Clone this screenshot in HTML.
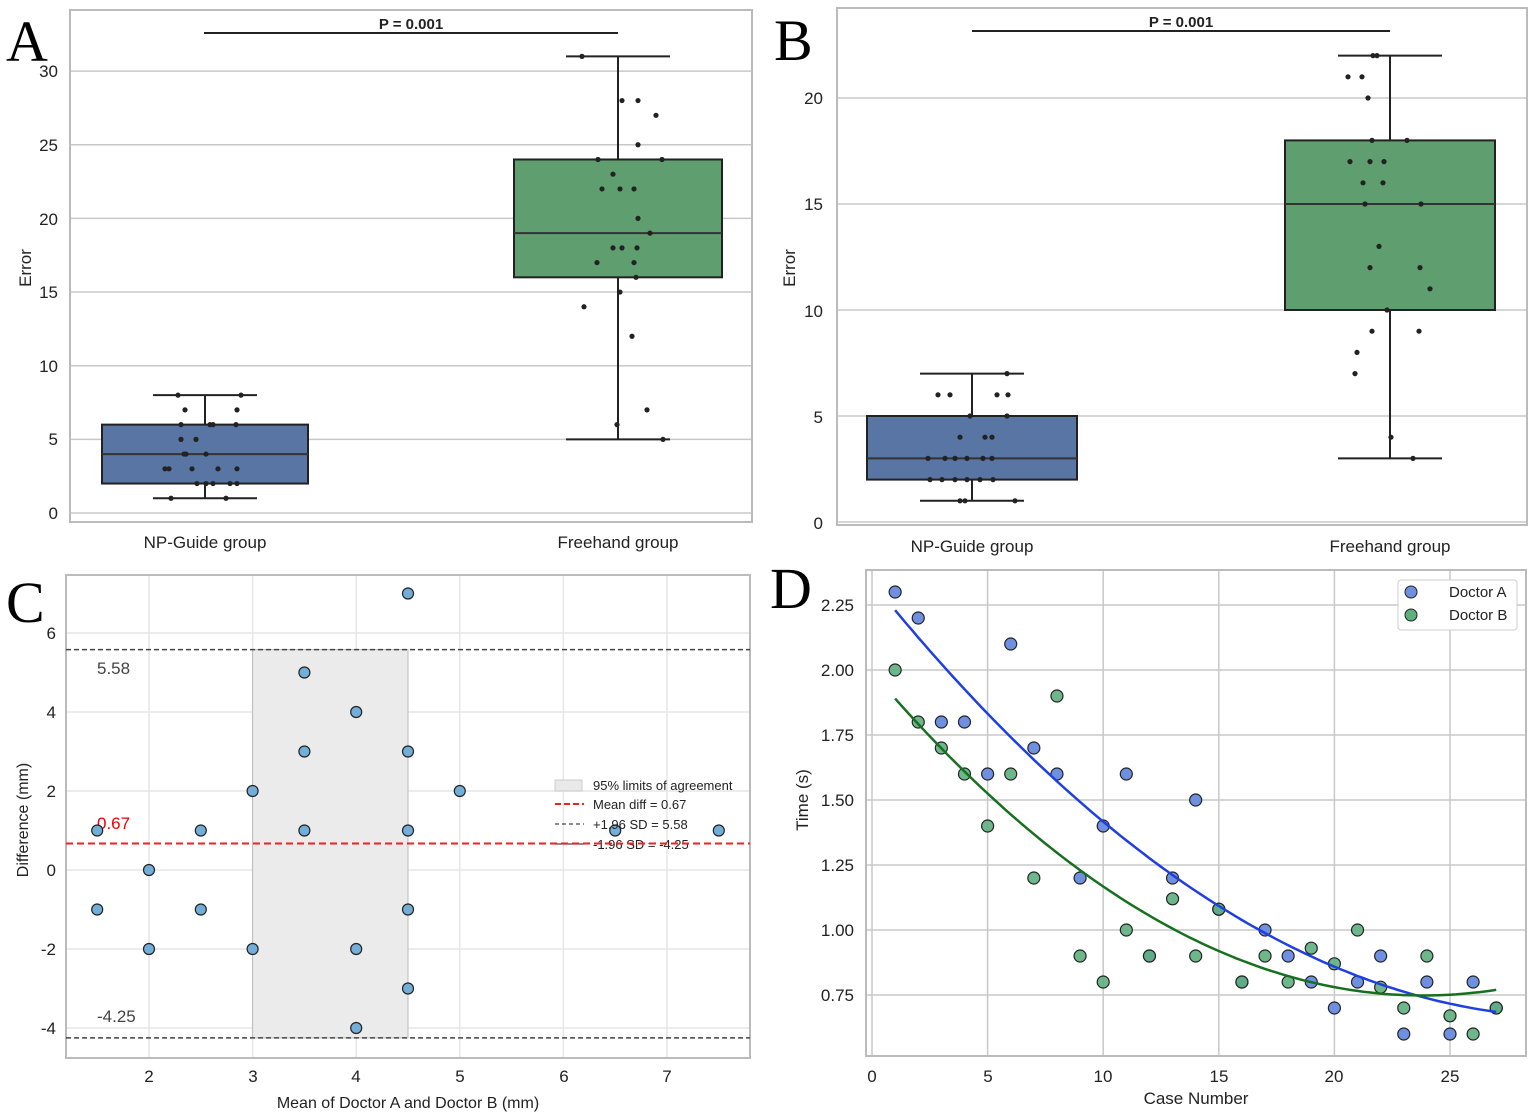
<!DOCTYPE html>
<html><head><meta charset="utf-8"><style>
html,body{margin:0;padding:0;background:#fff;}
svg{display:block;font-family:"Liberation Sans",sans-serif;}
.t{font-size:17px;fill:#222;}
.big{font-family:"Liberation Serif",serif;font-size:58px;fill:#000;}
</style></head><body>
<svg id="s" width="1535" height="1118" viewBox="0 0 1535 1118" xmlns="http://www.w3.org/2000/svg">
<g id="grid"></g>
<!-- Panel A -->
<rect x="70" y="10" width="682" height="512" fill="none" stroke="#bbb" stroke-width="2"/>
<g class="t" text-anchor="end">
<text x="58" y="519">0</text><text x="58" y="445">5</text><text x="58" y="372">10</text><text x="58" y="298">15</text><text x="58" y="225">20</text><text x="58" y="151">25</text><text x="58" y="77">30</text>
</g>
<text class="t" transform="translate(31,268) rotate(-90)" text-anchor="middle">Error</text>
<text class="t" x="205" y="548" text-anchor="middle">NP-Guide group</text>
<text class="t" x="618" y="548" text-anchor="middle">Freehand group</text>
<line x1="204" y1="33" x2="618" y2="33" stroke="#222" stroke-width="2"/>
<text x="411" y="29" text-anchor="middle" style="font-size:15px;font-weight:bold;fill:#222">P = 0.001</text>
<text class="big" x="6" y="61">A</text>
<!-- Panel B -->
<rect x="837" y="8" width="690" height="517" fill="none" stroke="#bbb" stroke-width="2"/>
<g class="t" text-anchor="end">
<text x="823" y="529">0</text><text x="823" y="423">5</text><text x="823" y="317">10</text><text x="823" y="210">15</text><text x="823" y="104">20</text>
</g>
<text class="t" transform="translate(795,268) rotate(-90)" text-anchor="middle">Error</text>
<text class="t" x="972" y="552" text-anchor="middle">NP-Guide group</text>
<text class="t" x="1390" y="552" text-anchor="middle">Freehand group</text>
<line x1="972" y1="31" x2="1390" y2="31" stroke="#222" stroke-width="2"/>
<text x="1181" y="27" text-anchor="middle" style="font-size:15px;font-weight:bold;fill:#222">P = 0.001</text>
<text class="big" x="774" y="60">B</text>
<!-- Panel C -->
<rect x="66" y="575" width="684" height="483" fill="none" stroke="#bbb" stroke-width="2"/>
<g class="t" text-anchor="end">
<text x="56" y="639">6</text><text x="56" y="718">4</text><text x="56" y="797">2</text><text x="56" y="876">0</text><text x="56" y="955">-2</text><text x="56" y="1034">-4</text>
</g>
<g class="t" text-anchor="middle">
<text x="149" y="1082">2</text><text x="253" y="1082">3</text><text x="356" y="1082">4</text><text x="460" y="1082">5</text><text x="564" y="1082">6</text><text x="667" y="1082">7</text>
</g>
<text class="t" x="408" y="1108" text-anchor="middle" style="font-size:16px">Mean of Doctor A and Doctor B (mm)</text>
<text class="t" transform="translate(28,820) rotate(-90)" text-anchor="middle" style="font-size:16px">Difference (mm)</text>
<text x="97" y="674" style="font-size:17px;fill:#444">5.58</text>
<text x="97" y="829" style="font-size:17px;fill:#e00">0.67</text>
<text x="97" y="1022" style="font-size:17px;fill:#444">-4.25</text>
<text class="big" x="6" y="622">C</text>
<!-- Panel D -->
<rect x="866" y="570" width="660" height="486" fill="none" stroke="#bbb" stroke-width="2"/>
<g class="t" text-anchor="end">
<text x="854" y="611">2.25</text><text x="854" y="676">2.00</text><text x="854" y="741">1.75</text><text x="854" y="806">1.50</text><text x="854" y="871">1.25</text><text x="854" y="936">1.00</text><text x="854" y="1001">0.75</text>
</g>
<g class="t" text-anchor="middle">
<text x="872" y="1082">0</text><text x="988" y="1082">5</text><text x="1103" y="1082">10</text><text x="1219" y="1082">15</text><text x="1334" y="1082">20</text><text x="1450" y="1082">25</text>
</g>
<text x="1196" y="1104" text-anchor="middle" style="font-size:17px;fill:#222">Case Number</text>
<text class="t" transform="translate(808,800) rotate(-90)" text-anchor="middle">Time (s)</text>
<text class="big" x="770" y="608">D</text>
<g id="fg"></g>
<!-- legend C -->
<g style="font-size:13px;fill:#222">
<rect x="555" y="780" width="27" height="11" fill="#e9e9e9" stroke="#ccc"/>
<text x="593" y="790">95% limits of agreement</text>
<line x1="555" y1="804" x2="584" y2="804" stroke="#e22" stroke-width="2" stroke-dasharray="6,3"/>
<text x="593" y="809">Mean diff = 0.67</text>
<line x1="555" y1="824" x2="584" y2="824" stroke="#444" stroke-width="1.3" stroke-dasharray="4,3"/>
<text x="593" y="829">+1.96 SD = 5.58</text>
<line x1="555" y1="844" x2="584" y2="844" stroke="#444" stroke-width="1.3"/>
<text x="593" y="849">-1.96 SD = -4.25</text>
</g>
<line x1="66" y1="843.5" x2="750" y2="843.5" stroke="#e22" stroke-width="2" stroke-dasharray="7,4"/>
<!-- legend D -->
<rect x="1398" y="580" width="119" height="50" fill="#fff" stroke="#ccc" rx="3"/>
<circle cx="1411" cy="592" r="6" fill="#6f8fe0" stroke="#222"/>
<circle cx="1411" cy="615" r="6" fill="#5daf7e" stroke="#222"/>
<text x="1449" y="597" style="font-size:15px;fill:#222">Doctor A</text>
<text x="1449" y="620" style="font-size:15px;fill:#222">Doctor B</text>
</svg>
<script>
var NS="http://www.w3.org/2000/svg",g=document.getElementById('grid'),f=document.getElementById('fg');
function el(p,n,a){var e=document.createElementNS(NS,n);for(var k in a)e.setAttribute(k,a[k]);p.appendChild(e);return e;}
function L(p,x1,y1,x2,y2,c,w,d){var a={x1:x1,y1:y1,x2:x2,y2:y2,stroke:c,'stroke-width':w||1};if(d)a['stroke-dasharray']=d;return el(p,'line',a);}
// A
var yA=function(v){return 513-14.73*v};
for(var v=0;v<=30;v+=5)L(g,71,yA(v),751,yA(v),'#c8c8c8',1.5);
function box(p,cx,hw,cw,lo,q1,med,q3,hi,fy,col){
 L(p,cx,fy(hi),cx,fy(q3),'#222',2);L(p,cx,fy(q1),cx,fy(lo),'#222',2);
 L(p,cx-cw,fy(hi),cx+cw,fy(hi),'#222',2);L(p,cx-cw,fy(lo),cx+cw,fy(lo),'#222',2);
 el(p,'rect',{x:cx-hw,y:fy(q3),width:2*hw,height:fy(q1)-fy(q3),fill:col,stroke:'#222','stroke-width':2});
 L(p,cx-hw,fy(med),cx+hw,fy(med),'#333',2);}
box(f,205,103,52,1,2,4,6,8,yA,'#5875a4');box(f,618,104,52,5,16,19,24,31,yA,'#5f9e6e');
var pa=[[8,178],[8,241],[7,185],[7,237],[6,181],[6,210],[6,213],[6,236],[5,181],[5,196],[4,184],[4,186],[4,206],[3,165],[3,169],[3,192],[3,218],[3,237],[2,197],[2,206],[2,213],[2,230],[2,237],[1,171],[1,226],
[31,582],[28,622],[28,638],[27,656],[25,638],[24,598],[24,662],[23,613],[22,602],[22,620],[22,634],[20,638],[19,650],[18,613],[18,622],[18,637],[17,597],[17,634],[16,636],[15,620],[14,584],[12,632],[7,647],[6,617],[5,663]];
pa.forEach(function(p){el(f,'circle',{cx:p[1],cy:yA(p[0]),r:2.6,fill:'#222'})});
// B
var yB=function(v){return 522-21.2*v};
for(v=0;v<=20;v+=5)L(g,838,yB(v),1526,yB(v),'#c8c8c8',1.5);
box(f,972,105,52,1,2,3,5,7,yB,'#5875a4');box(f,1390,105,52,3,10,15,18,22,yB,'#5f9e6e');
var pb=[[7,1007],[6,938],[6,950],[6,997],[6,1008],[5,970],[5,1007],[4,960],[4,985],[4,992],[3,928],[3,945],[3,955],[3,967],[3,983],[3,992],[2,930],[2,942],[2,955],[2,967],[2,980],[2,993],[1,960],[1,965],[1,1015],
[22,1373],[22,1377],[21,1348],[21,1362],[20,1368],[18,1372],[18,1407],[17,1350],[17,1370],[17,1384],[16,1363],[16,1383],[15,1365],[15,1421],[13,1379],[12,1370],[12,1420],[11,1430],[10,1387],[9,1372],[9,1419],[8,1357],[7,1355],[4,1391],[3,1413]];
pb.forEach(function(p){el(f,'circle',{cx:p[1],cy:yB(p[0]),r:2.6,fill:'#222'})});
// C
var xC=function(v){return 149+103.6*(v-2)},yC=function(v){return 870-39.5*v};
for(v=2;v<=7;v++)L(g,xC(v),576,xC(v),1057,'#e6e6e6',1.5);
for(v=-4;v<=6;v+=2)L(g,67,yC(v),749,yC(v),'#e6e6e6',1.5);
el(g,'rect',{x:xC(3),y:yC(5.58),width:xC(4.5)-xC(3),height:yC(-4.25)-yC(5.58),fill:'#ebebeb',stroke:'#bbb'});
L(f,66,yC(5.58),750,yC(5.58),'#444',1.5,'5,3');L(f,66,yC(-4.25),750,yC(-4.25),'#444',1.5,'5,3');
[[1.5,1],[1.5,-1],[2,0],[2,-2],[2.5,1],[2.5,-1],[3,2],[3,-2],[3.5,5],[3.5,3],[3.5,1],[4,4],[4,-2],[4,-4],[4.5,7],[4.5,3],[4.5,1],[4.5,-1],[4.5,-3],[5,2],[6.5,1],[7.5,1]].forEach(function(p){el(f,'circle',{cx:xC(p[0]),cy:yC(p[1]),r:5.5,fill:'#72aed8',stroke:'#222','stroke-width':1.2})});
// D
var xD=function(v){return 872+23.12*v},yD=function(v){return 605+(2.25-v)*260};
for(v=0;v<=25;v+=5)L(g,xD(v),571,xD(v),1055,'#c8c8c8',1.5);
[2.25,2,1.75,1.5,1.25,1,0.75].forEach(function(v){L(g,867,yD(v),1525,yD(v),'#c8c8c8',1.5)});
function quad(p1,p2,p3){var x1=p1[0],y1=p1[1],x2=p2[0],y2=p2[1],x3=p3[0],y3=p3[1];
 var d=(x1-x2)*(x1-x3)*(x2-x3),a=(x3*(y2-y1)+x2*(y1-y3)+x1*(y3-y2))/d,b=(x3*x3*(y1-y2)+x2*x2*(y3-y1)+x1*x1*(y2-y3))/d,c=(x2*x3*(x2-x3)*y1+x3*x1*(x3-x1)*y2+x1*x2*(x1-x2)*y3)/d;return function(x){return a*x*x+b*x+c}}
function curve(fn,col){var s='';for(var x=1;x<=27.01;x+=0.25)s+=(s?'L':'M')+xD(x).toFixed(1)+','+yD(fn(x)).toFixed(1);el(f,'path',{d:s,fill:'none',stroke:col,'stroke-width':2.5})}
var A=[2.3,2.2,1.8,1.8,1.6,2.1,1.7,1.6,1.2,1.4,1.6,0.9,1.2,1.5,1.08,0.8,1.0,0.9,0.8,0.7,0.8,0.9,0.6,0.8,0.6,0.8,0.7];
var B=[2.0,1.8,1.7,1.6,1.4,1.6,1.2,1.9,0.9,0.8,1.0,0.9,1.12,0.9,1.08,0.8,0.9,0.8,0.93,0.87,1.0,0.78,0.7,0.9,0.67,0.6,0.7];
A.forEach(function(v,i){el(f,'circle',{cx:xD(i+1),cy:yD(v),r:6,fill:'#6f8fe0',stroke:'#222','stroke-width':1.2})});
B.forEach(function(v,i){el(f,'circle',{cx:xD(i+1),cy:yD(v),r:6,fill:'#5daf7e',stroke:'#222','stroke-width':1.2,'fill-opacity':0.9})});
curve(quad([1,2.23],[14,1.15],[27,0.685]),'#1f3fe0');
curve(quad([1,1.89],[14,0.96],[27,0.77]),'#17701f');
</script>
</body></html>
